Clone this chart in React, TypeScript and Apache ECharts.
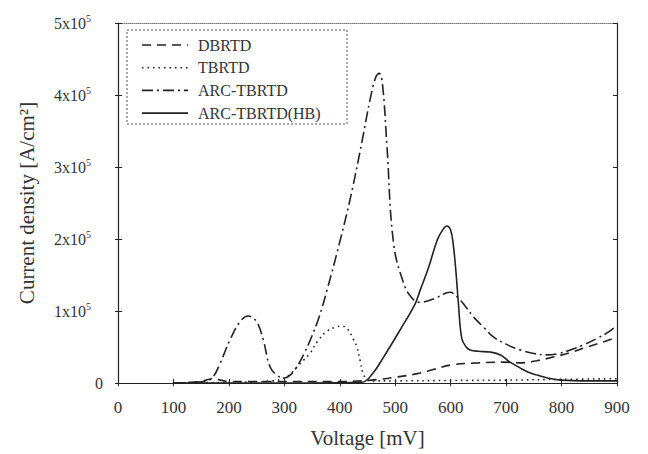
import React, { useEffect, useRef } from "react";
import * as echarts from "echarts";

// Voltage [mV] and current density [x10^5 A/cm^2]
const dbrtdV = [100, 150, 170, 185, 200, 300, 400, 440, 470, 500, 540, 570, 600, 650, 695, 725, 755, 785, 815, 846, 875, 900];
const dbrtdJ = [0, 0.02, 0.06, 0.04, 0.02, 0.02, 0.02, 0.03, 0.05, 0.08, 0.13, 0.19, 0.25, 0.28, 0.29, 0.28, 0.31, 0.36, 0.42, 0.5, 0.57, 0.64];

const tbrtdV = [100, 200, 280, 300, 310, 320, 335, 347, 360, 377, 390, 404, 415, 425, 431, 437, 442, 448, 455, 500, 600, 700, 800, 900];
const tbrtdJ = [0, 0.01, 0.03, 0.07, 0.12, 0.2, 0.32, 0.42, 0.58, 0.72, 0.77, 0.79, 0.74, 0.6, 0.5, 0.3, 0.13, 0.06, 0.03, 0.03, 0.035, 0.04, 0.05, 0.06];

const arcV = [100, 140, 160, 171, 184, 202, 220, 235, 250, 262, 274, 288, 301, 312, 323, 335, 347, 362, 377, 401, 420, 440, 455, 465, 471, 477, 485, 497, 515, 530, 545, 570, 599, 611, 625, 641, 660, 677, 700, 725, 750, 774, 795, 816, 840, 864, 885, 900];
const arcJ = [0, 0.01, 0.03, 0.08, 0.27, 0.6, 0.85, 0.93, 0.85, 0.6, 0.23, 0.1, 0.07, 0.12, 0.23, 0.4, 0.6, 0.9, 1.29, 1.99, 2.6, 3.35, 3.95, 4.25, 4.3, 4.15, 3.3, 1.94, 1.39, 1.18, 1.12, 1.17, 1.26, 1.2, 1.08, 0.92, 0.77, 0.64, 0.54, 0.46, 0.41, 0.39, 0.41, 0.46, 0.53, 0.62, 0.71, 0.8];

const hbV = [100, 300, 440, 460, 479, 509, 536, 545, 560, 576, 586, 593, 600, 605, 610, 614, 620, 628, 635, 650, 671, 690, 705, 725, 740, 756, 775, 798, 850, 900];
const hbJ = [0, 0, 0.01, 0.14, 0.36, 0.74, 1.1, 1.29, 1.6, 1.99, 2.13, 2.18, 2.12, 1.9, 1.5, 1.1, 0.62, 0.5, 0.46, 0.44, 0.43, 0.39, 0.3, 0.21, 0.15, 0.11, 0.07, 0.04, 0.03, 0.03];

const seriesNames = ["DBRTD", "TBRTD", "ARC-TBRTD", "ARC-TBRTD(HB)"];
const seriesDash: (number[] | "solid")[] = [[9, 6], [1.5, 4], [11, 4, 2, 4], "solid"];
const scale = 100000;

const FONT = "'Liberation Serif', 'Times New Roman', serif";
const INK = "#222";

function pairs(v: number[], j: number[]) {
  return v.map((x, i) => [x, j[i] * scale]);
}

export default function App() {
  const ref = useRef<HTMLDivElement>(null);
  useEffect(() => {
    if (!ref.current) return;
    document.body.style.margin = "0";
    const chart = echarts.init(ref.current, undefined, { renderer: "svg" });
    const common = {
      type: "line",
      symbol: "none",
      smooth: 0.4,
      xAxisIndex: 0,
      yAxisIndex: 0,
    };
    const datasets = [pairs(dbrtdV, dbrtdJ), pairs(tbrtdV, tbrtdJ), pairs(arcV, arcJ), pairs(hbV, hbJ)];

    const legendGraphics: any[] = [
      {
        type: "rect",
        shape: { x: 127, y: 30, width: 220, height: 94 },
        style: { fill: "none", stroke: "#555", lineWidth: 1, lineDash: [2, 2] },
        z: 10,
      },
    ];
    seriesNames.forEach((name, i) => {
      const y = 45 + i * 22.7;
      const dash = seriesDash[i];
      legendGraphics.push({
        type: "line",
        shape: { x1: 142, y1: y, x2: 188, y2: y },
        style: {
          stroke: INK,
          lineWidth: 1.6,
          lineDash: dash === "solid" ? null : dash,
        },
        z: 10,
      });
      legendGraphics.push({
        type: "text",
        x: 198,
        y: y,
        style: {
          text: name,
          fill: "#333",
          font: `16px ${FONT}`,
          verticalAlign: "middle",
          align: "left",
        },
        z: 10,
      });
    });

    chart.setOption({
      animation: false,
      backgroundColor: "#fff",
      textStyle: { fontFamily: FONT },
      grid: { left: 118, right: 31, top: 23, bottom: 71, containLabel: false },
      graphic: legendGraphics,
      xAxis: [
        {
          type: "value",
          min: 0,
          max: 900,
          interval: 100,
          position: "bottom",
          name: "Voltage [mV]",
          nameLocation: "middle",
          nameGap: 44,
          nameTextStyle: { fontFamily: FONT, fontSize: 21, color: "#333" },
          axisLine: { onZero: false, lineStyle: { color: INK, width: 1.2 } },
          axisTick: { inside: true, length: 4, lineStyle: { color: INK } },
          axisLabel: { fontFamily: FONT, fontSize: 17, color: "#333", margin: 16 },
          splitLine: { show: false },
        },
        {
          type: "value",
          min: 0,
          max: 900,
          interval: 100,
          position: "top",
          axisLine: { onZero: false, lineStyle: { color: "#777", width: 1, type: "dotted" } },
          axisTick: { show: false },
          axisLabel: { show: false },
          splitLine: { show: false },
        },
        {
          type: "value",
          min: 0,
          max: 900,
          interval: 100,
          position: "bottom",
          axisLine: { show: false },
          axisTick: { inside: false, length: 3, lineStyle: { color: INK } },
          axisLabel: { show: false },
          splitLine: { show: false },
        },
      ],
      yAxis: [
        {
          type: "value",
          min: 0,
          max: 500000,
          interval: 100000,
          position: "left",
          name: "Current density [A/cm²]",
          nameLocation: "middle",
          nameGap: 81,
          nameRotate: 90,
          nameTextStyle: { fontFamily: FONT, fontSize: 21, color: "#333" },
          axisLine: { onZero: false, lineStyle: { color: INK, width: 1.2 } },
          axisTick: { inside: true, length: 4, lineStyle: { color: INK } },
          axisLabel: {
            fontFamily: FONT,
            margin: 15,
            formatter: (v: number) => (v === 0 ? "{a|0}" : `{a|${v / scale}x10}{s|5}`),
            rich: {
              a: { fontFamily: FONT, fontSize: 16, color: "#333" },
              s: { fontFamily: FONT, fontSize: 10, color: "#333", padding: [0, 12, 10, 0] },
            },
          },
          splitLine: { show: false },
        },
        {
          type: "value",
          min: 0,
          max: 500000,
          interval: 100000,
          position: "right",
          axisLine: { onZero: false, lineStyle: { color: INK, width: 1.2 } },
          axisTick: { inside: true, length: 4, lineStyle: { color: INK } },
          axisLabel: { show: false },
          splitLine: { show: false },
        },
        {
          type: "value",
          min: 0,
          max: 500000,
          interval: 100000,
          position: "left",
          axisLine: { show: false },
          axisTick: { inside: false, length: 3, lineStyle: { color: INK } },
          axisLabel: { show: false },
          splitLine: { show: false },
        },
      ],
      series: seriesNames.map((name, i) => ({
        ...common,
        name,
        data: datasets[i],
        lineStyle: { color: INK, width: 1.6, type: seriesDash[i] },
        itemStyle: { color: INK },
      })),
    });
    return () => chart.dispose();
  }, []);
  return <div ref={ref} style={{ width: 648, height: 454 }} />;
}
